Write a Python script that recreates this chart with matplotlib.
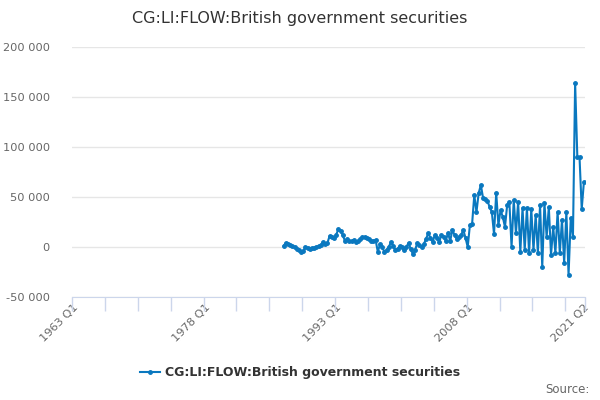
import matplotlib.pyplot as plt
from matplotlib.lines import Line2D

# quarters from 1963 Q1 to 2021 Q2 on the category axis
quarters = [f"{y} Q{q}" for y in range(1963, 2022) for q in range(1, 5)]
quarters = quarters[:quarters.index("2021 Q2") + 1]

first_quarter = "1987 Q1"

# CG:LI:FLOW:British government securities, £ million
values = [
    1, 4, 3, 2, 1, 0, -2, -3, -5, -4,
    0, -1, -2, -1, -1, 0, 1, 2, 5, 3,
    4, 11, 10, 9, 12, 18, 16, 12, 6, 8,
    6, 6, 7, 5, 6, 8, 10, 10, 9, 8,
    6, 6, 7, -5, 3, 0, -5, -3, 0, 5,
    1, -3, -2, 1, 0, -3, 0, 4, -2, -7,
    -3, 4, 2, 0, 3, 8, 14, 9, 5, 12,
    9, 5, 12, 10, 6, 14, 6, 17, 12, 8,
    10, 12, 17, 9, 0, 22, 23, 52, 35, 54,
    62, 49, 48, 46, 40, 35, 13, 54, 22, 37,
    30, 20, 42, 45, 0, 47, 14, 45, -5, 39,
    -3, 39, -6, 38, -3, 32, -6, 42, -20, 44,
    10, 40, -8, 20, -6, 35, -6, 27, -16, 35,
    -28, 29, 10, 164, 90, 90, 38, 65,
]
values = [v * 1000 for v in values]

series_name = "CG:LI:FLOW:British government securities"
title = "CG:LI:FLOW:British government securities"
major_labels = ["1963 Q1", "1978 Q1", "1993 Q1", "2008 Q1", "2021 Q2"]

start = quarters.index(first_quarter)
xs = list(range(start, start + len(values)))

blue = "#0a78bf"
grey_text = "#666666"
axis_col = "#ccd6eb"

fig = plt.figure(figsize=(6, 4), dpi=100)
ax = fig.add_axes([0.12, 0.2575, 0.855, 0.625])

for s in ["top", "right", "left"]:
    ax.spines[s].set_visible(False)
ax.spines["bottom"].set_color(axis_col)

ax.plot(xs, values, color=blue, lw=1.5, marker="o", ms=2.5, zorder=3)

n = len(quarters)
ax.set_xlim(-0.5, n - 0.5)
ax.set_ylim(-50000, 200000)
ax.set_yticks(range(-50000, 200001, 50000))
ax.set_yticklabels([f"{v:,}".replace(",", " ") for v in range(-50000, 200001, 50000)])
ax.grid(axis="y", color="#e6e6e6", lw=1)
ax.set_axisbelow(True)

# tick marks sit between categories, labels on the category
marks = [i - 0.5 for i in range(0, n, 15)] + [n - 0.5]
ax.set_xticks(marks, minor=True)
ax.set_xticks([quarters.index(q) for q in major_labels])
ax.set_xticklabels(major_labels, rotation=45, ha="right", rotation_mode="anchor")
ax.tick_params(axis="x", which="minor", length=10, color=axis_col, width=1)
ax.tick_params(axis="x", which="major", length=0, labelcolor=grey_text,
               labelsize=8.2, pad=4)
ax.tick_params(axis="y", length=0, labelcolor=grey_text, labelsize=8.2, pad=16)

fig.text(0.5, 0.955, title, ha="center", va="center", fontsize=11.5, color="#333333")

handle = Line2D([], [], color=blue, lw=1.5, marker="o", ms=2.5)
fig.legend([handle], [series_name], loc="center", bbox_to_anchor=(0.5, 0.068),
           frameon=False, handlelength=1.6, handletextpad=0.4,
           prop={"weight": "bold", "size": 9}, labelcolor="#333333")

fig.text(0.982, 0.027, "Source:", ha="right", va="center", fontsize=8.5, color=grey_text)

fig.savefig("out.png", dpi=100)
